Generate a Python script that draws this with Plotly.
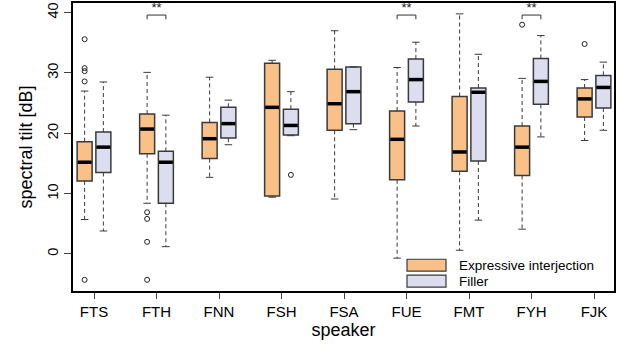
import plotly.graph_objects as go

speakers = ["FTS", "FTH", "FNN", "FSH", "FSA", "FUE", "FMT", "FYH", "FJK"]

# Expressive interjection (orange)
ei_lower = [5.7, 8.4, 12.7, 9.4, 9.1, -0.7, 0.6, 4.1, 18.8]
ei_q1 = [12.1, 16.6, 15.8, 9.6, 20.5, 12.3, 13.7, 13.0, 22.7]
ei_median = [15.2, 20.7, 19.1, 24.3, 24.9, 19.0, 16.9, 17.7, 25.7]
ei_q3 = [18.6, 23.2, 21.8, 31.6, 30.6, 23.7, 26.1, 21.2, 27.5]
ei_upper = [27.0, 30.1, 29.3, 32.1, 37.0, 30.9, 39.8, 29.1, 28.9]
ei_out_speaker = ["FTS", "FTS", "FTS", "FTS", "FTS", "FTH", "FTH", "FTH", "FTH", "FYH", "FJK"]
ei_out_value = [35.6, 30.8, 30.3, 28.6, -4.3, 6.9, 5.8, 2.0, -4.3, 38.0, 34.8]

# Filler (lavender)
fi_lower = [3.8, 1.2, 18.1, 19.6, 20.6, 21.2, 5.6, 19.4, 20.5]
fi_q1 = [13.5, 8.4, 19.2, 19.7, 21.6, 25.2, 15.4, 24.8, 24.2]
fi_median = [17.7, 15.2, 21.6, 21.3, 26.9, 28.9, 26.8, 28.6, 27.6]
fi_q3 = [20.2, 17.0, 24.3, 24.0, 31.0, 32.3, 27.5, 32.4, 29.6]
fi_upper = [28.5, 23.0, 25.5, 26.9, 31.0, 35.1, 33.1, 36.2, 31.8]
fi_out_speaker = ["FSH"]
fi_out_value = [13.1]

# significance marks
sig_speakers = ["FTH", "FUE", "FYH"]
sig_labels = ["**", "**", "**"]

group_names = ["Expressive interjection", "Filler"]

# ---- styling / layout constants ----
OFF = 0.15
BOXW = 0.24
CAPW = 0.06
ORANGE = "#F9C087"
LAV = "#DCDDEE"
EDGE = "#3a3a3a"
FONT = "Liberation Sans, Arial, Helvetica, sans-serif"
BR_TOP = 39.6
BR_LEG = 38.9

idx = {s: i + 1 for i, s in enumerate(speakers)}

fig = go.Figure()


def add_group(name, color, shift, lower, q1, med, q3, upper, out_spk, out_val):
    xs = [i + 1 + shift for i in range(len(speakers))]
    wx, wy, cx, cy = [], [], [], []
    for x, lo, a, b, up in zip(xs, lower, q1, q3, upper):
        wx += [x, x, None, x, x, None]
        wy += [b, up, None, a, lo, None]
        cx += [x - CAPW, x + CAPW, None, x - CAPW, x + CAPW, None]
        cy += [up, up, None, lo, lo, None]
    fig.add_trace(go.Scatter(x=wx, y=wy, mode="lines", showlegend=False,
                             line=dict(color=EDGE, width=1, dash="4px,3px"),
                             hoverinfo="skip"))
    fig.add_trace(go.Scatter(x=cx, y=cy, mode="lines", showlegend=False,
                             line=dict(color=EDGE, width=1), hoverinfo="skip"))
    fig.add_trace(go.Box(x=xs, q1=q1, median=med, q3=q3,
                         lowerfence=q1, upperfence=q3,
                         width=BOXW, name=name, fillcolor=color,
                         line=dict(color=EDGE, width=1.5), showlegend=False,
                         boxpoints=False, whiskerwidth=0))
    mx, my = [], []
    for x, m in zip(xs, med):
        mx += [x - BOXW / 2 + 0.01, x + BOXW / 2 - 0.01, None]
        my += [m, m, None]
    fig.add_trace(go.Scatter(x=mx, y=my, mode="lines", showlegend=False,
                             line=dict(color="black", width=3.5), hoverinfo="skip"))
    fig.add_trace(go.Scatter(x=[idx[s] + shift for s in out_spk], y=out_val,
                             mode="markers", showlegend=False,
                             marker=dict(symbol="circle-open", size=5,
                                         color="#222", line=dict(width=1)),
                             hoverinfo="skip"))


add_group(group_names[0], ORANGE, -OFF, ei_lower, ei_q1, ei_median,
          ei_q3, ei_upper, ei_out_speaker, ei_out_value)
add_group(group_names[1], LAV, OFF, fi_lower, fi_q1, fi_median, fi_q3, fi_upper,
          fi_out_speaker, fi_out_value)

# significance brackets
bx, by = [], []
for s in sig_speakers:
    p = idx[s]
    bx += [p - OFF, p - OFF, p + OFF, p + OFF, None]
    by += [BR_LEG, BR_TOP, BR_TOP, BR_LEG, None]
fig.add_trace(go.Scatter(x=bx, y=by, mode="lines", showlegend=False,
                         line=dict(color="#333", width=1), hoverinfo="skip"))
fig.add_trace(go.Scatter(x=[idx[s] for s in sig_speakers], y=[BR_TOP] * len(sig_speakers),
                         text=sig_labels, mode="text", textposition="top center",
                         textfont=dict(family=FONT, size=13, color="#222"),
                         showlegend=False, hoverinfo="skip"))

# legend (R-style wide swatches), in paper coordinates
LEG_X0, LEG_X1, LEG_TX = 0.6174, 0.6895, 0.7098
LEG_ROWS = [(0.069, 0.1103), (0.0138, 0.0552)]
shapes, annos = [], []
for (y0, y1), col, nm in zip(LEG_ROWS, [ORANGE, LAV], group_names):
    shapes.append(dict(type="rect", xref="paper", yref="paper",
                       x0=LEG_X0, x1=LEG_X1, y0=y0, y1=y1,
                       fillcolor=col, line=dict(color=EDGE, width=1.2)))
    annos.append(dict(xref="paper", yref="paper", x=LEG_TX, y=(y0 + y1) / 2,
                      text=nm, showarrow=False, xanchor="left", yanchor="middle",
                      font=dict(size=13.5, family=FONT, color="black")))

fig.update_layout(
    width=625, height=344,
    margin=dict(l=73, r=11, t=1, b=53),
    plot_bgcolor="white", paper_bgcolor="white",
    font=dict(family=FONT, size=14, color="black"),
    boxmode="overlay",
    showlegend=False,
    shapes=shapes, annotations=annos,
    xaxis=dict(range=[0.664, 9.32], tickmode="array",
               tickvals=list(range(1, len(speakers) + 1)), ticktext=speakers,
               showgrid=False, zeroline=False, showline=True, linecolor="black",
               linewidth=2, mirror=True, ticks="outside", ticklen=6, tickwidth=1,
               tickfont=dict(size=15),
               title=dict(text="speaker", font=dict(size=18), standoff=3)),
    yaxis=dict(range=[-6.15, 41.6], tickvals=[0, 10, 20, 30, 40],
               showgrid=False, zeroline=False, showline=True, linecolor="black",
               linewidth=2, mirror=True, ticks="outside", ticklen=7, tickwidth=1,
               tickangle=-90, tickfont=dict(size=14.5),
               title=dict(text="spectral tilt [dB]", font=dict(size=18), standoff=8)),
)

fig.write_html("out.html", config={"displayModeBar": False},
               post_script="document.body.style.margin='0';")
